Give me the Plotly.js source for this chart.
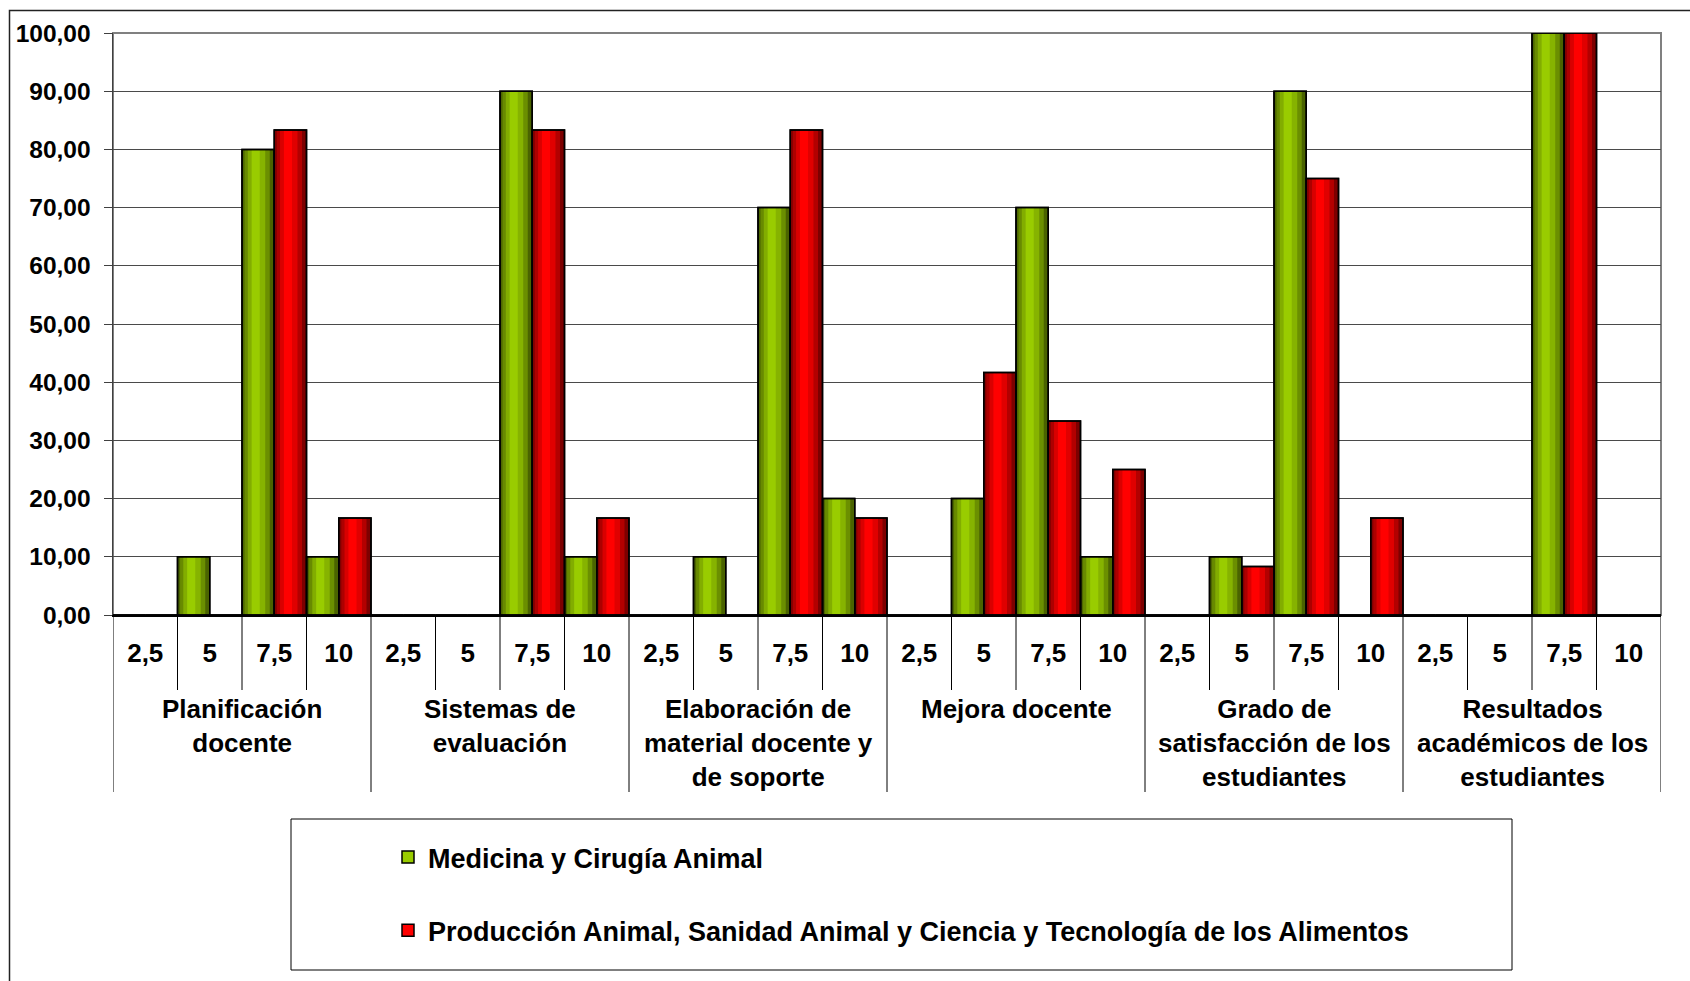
<!DOCTYPE html>
<html>
<head>
<meta charset="utf-8">
<script src="https://cdn.plot.ly/plotly-3.0.1.min.js"></script>
<style>html,body{margin:0;padding:0;background:#fff;}#chart{width:1690px;height:981px;}</style>
</head>
<body>
<div id="chart"></div>
<script>
// ---- data ----
const groups = [
  "Planificación<br>docente",
  "Sistemas de<br>evaluación",
  "Elaboración de<br>material docente y<br>de soporte",
  "Mejora docente",
  "Grado de<br>satisfacción de los<br>estudiantes",
  "Resultados<br>académicos de los<br>estudiantes"
];
const subLabels = ["2,5", "5", "7,5", "10"];
const seriesNames = ["Medicina y Cirugía Animal", "Producción Animal, Sanidad Animal y Ciencia y Tecnología de los Alimentos"];
const medicina   = [0, 10, 80, 10,   0, 0, 90, 10,   0, 10, 70, 20,   0, 20, 70, 10,   0, 10, 90, 0,   0, 0, 100, 0];
const produccion = [0, 0, 83.33, 16.67,   0, 0, 83.33, 16.67,   0, 0, 83.33, 16.67,   0, 41.67, 33.33, 25,   0, 8.33, 75, 16.67,   0, 0, 100, 0];
const yTicks = [0, 10, 20, 30, 40, 50, 60, 70, 80, 90, 100];

// ---- layout geometry (pixels) ----
const W = 1690, H = 981;
const L = 113, R = 1661, T = 33, B = 615;
const pxX = p => (p - L) / (R - L);
const pxY = p => (B - p) / (B - T);
const FONT = "Liberation Sans, Arial, sans-serif";

const nSub = subLabels.length;
const xIdx = medicina.map((_, i) => i);
const tickText = groups.flatMap(() => subLabels);

const colors = ["#99CC00", "#FF0000"];
const seriesData = [medicina, produccion];
const barW = 0.5;
const offsets = [-0.5, 0];

const traces = [];
// base bars
seriesData.forEach((vals, s) => {
  traces.push({
    type: "bar", x: xIdx, y: vals, name: seriesNames[s],
    width: barW, offset: offsets[s],
    marker: {color: colors[s], line: {color: "#000", width: 1.5}},
    legendgroup: "g" + s, hoverinfo: "y"
  });
});
// shading strips (fractions of bar width, alpha of black)
const strips = [[0, 0.3, 0.15], [0, 0.18, 0.2], [0, 0.08, 0.25], [0.55, 1, 0.12], [0.72, 1, 0.2], [0.86, 1, 0.3]];
seriesData.forEach((vals, s) => {
  strips.forEach(([f0, f1, a]) => {
    traces.push({
      type: "bar", x: xIdx, y: vals, showlegend: false, hoverinfo: "skip",
      width: (f1 - f0) * barW, offset: offsets[s] + f0 * barW,
      marker: {color: "rgba(0,0,0," + a + ")", line: {width: 0}},
      legendgroup: "g" + s
    });
  });
  traces.push({
    type: "bar", x: xIdx, y: vals, showlegend: false, hoverinfo: "skip",
    width: barW, offset: offsets[s],
    marker: {color: "rgba(0,0,0,0)", line: {color: "#000", width: 1.5}},
    legendgroup: "g" + s
  });
});

// shapes
const shapes = [];
// outer chart border
shapes.push({type: "rect", xref: "paper", yref: "paper", x0: pxX(9.5), x1: pxX(1720), y0: pxY(1020), y1: pxY(10.5),
  line: {color: "#222", width: 1.5}, layer: "below"});
// plot area border
shapes.push({type: "rect", xref: "paper", yref: "paper", x0: 0, x1: 1, y0: 0, y1: 1,
  line: {color: "#808080", width: 2}, layer: "below"});
// category dividers below axis
for (let k = 0; k <= medicina.length; k++) {
  const isGroup = k % nSub === 0;
  shapes.push({type: "line", xref: "x", yref: "paper", x0: k - 0.5, x1: k - 0.5, y0: 0, y1: pxY(isGroup ? 792 : 690),
    line: {color: "#000", width: 1}});
}
// legend box
shapes.push({type: "rect", xref: "paper", yref: "paper", x0: pxX(291), x1: pxX(1512), y0: pxY(970), y1: pxY(819),
  line: {color: "#000", width: 1}});

// group labels
const annotations = groups.map((g, i) => ({
  text: g, xref: "x", yref: "paper", x: i * nSub + (nSub - 1) / 2, y: pxY(692),
  xanchor: "center", yanchor: "top", showarrow: false, align: "center",
  font: {family: FONT, size: 26, color: "#000", weight: "bold"}
}));

const layout = {
  width: W, height: H,
  margin: {l: L, r: W - R, t: T, b: H - B, pad: 0, autoexpand: false},
  paper_bgcolor: "#fff", plot_bgcolor: "#fff",
  separators: ",.",
  barmode: "overlay",
  showlegend: true,
  font: {family: FONT, color: "#000"},
  xaxis: {
    type: "linear", range: [-0.5, medicina.length - 0.5],
    tickvals: xIdx, ticktext: tickText, ticks: "", showgrid: false, zeroline: false,
    showline: true, linecolor: "#000", linewidth: 1.5, automargin: false,
    tickfont: {family: FONT, size: 26, color: "#000", weight: "bold"},
    tickangle: 0,
    ticklabelstandoff: 14, fixedrange: true
  },
  yaxis: {
    range: [0, 100], tickvals: yTicks, tickformat: ".2f", automargin: false,
    ticks: "outside", ticklen: 8, tickcolor: "#404040", tickwidth: 1,
    showgrid: true, gridcolor: "#4a4a4a", gridwidth: 1, zeroline: false,
    showline: true, linecolor: "#404040", linewidth: 1.5,
    tickfont: {family: FONT, size: 24.5, color: "#000", weight: "bold"},
    ticklabelstandoff: 8, fixedrange: true
  },
  legend: {
    xref: "paper", yref: "paper", x: pxX(388), y: pxY(833), xanchor: "left", yanchor: "top",
    bgcolor: "rgba(0,0,0,0)", borderwidth: 0, tracegroupgap: 35, traceorder: "grouped",
    font: {family: FONT, size: 27, color: "#000", weight: "bold"}
  },
  shapes: shapes,
  annotations: annotations
};

Plotly.newPlot("chart", traces, layout, {displayModeBar: false, staticPlot: true});
</script>
</body>
</html>
